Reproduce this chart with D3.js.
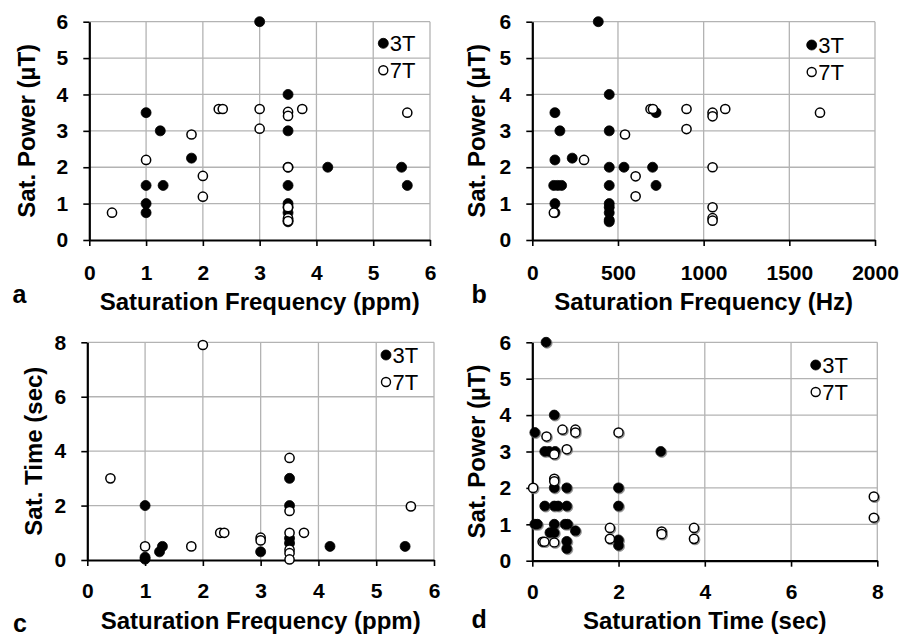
<!DOCTYPE html>
<html>
<head>
<meta charset="utf-8">
<script src="https://cdn.jsdelivr.net/npm/d3@7/dist/d3.min.js"></script>
<style>
html,body{margin:0;padding:0;background:#fff;}
svg{display:block;}
</style>
</head>
<body>
<svg id="chart" width="903" height="636"></svg>
<script>
// ---------- DATA ----------
// Tick values
const ppmTicks = [0, 1, 2, 3, 4, 5, 6];
const hzTicks = [0, 500, 1000, 1500, 2000];
const powerTicks = [0, 1, 2, 3, 4, 5, 6];
const timeTicks = [0, 2, 4, 6, 8];
const seriesNames = ["3T", "7T"];

// Panel a: Saturation Frequency (ppm) vs Sat. Power (uT)
const a3T = [[1,3.5],[1,1.5],[1,1.0],[1,0.75],[1.25,3.0],[1.3,1.5],[1.8,2.25],[3,6],
  [3.5,4],[3.5,3],[3.5,2],[3.5,1.5],[3.5,1.0],[3.5,0.9],[3.5,0.75],[3.5,0.55],[3.5,0.5],
  [4.2,2],[5.5,2],[5.6,1.5]];
const a7T = [[0.4,0.75],[1,2.2],[1.8,2.9],[2,1.76],[2,1.19],[2.28,3.6],[2.35,3.6],
  [3,3.6],[3,3.06],[3.5,3.52],[3.5,3.41],[3.5,2.0],[3.5,0.9],[3.5,0.6],[3.5,0.52],
  [3.75,3.6],[5.6,3.5]];

// Panel b: Saturation Frequency (Hz) vs Sat. Power (uT)
const b3T = [[132,3.5],[161,3.0],[132,2.2],[233,2.25],[125,1.5],[148,1.5],[171,1.5],
  [132,1.0],[132,0.75],[385,6],[449,4],[449,3],[449,2],[449,1.5],[449,1.0],[449,0.9],
  [449,0.75],[449,0.55],[449,0.5],[535,2],[702,2],[722,3.5],[722,1.5]];
const b7T = [[126,0.75],[302,2.2],[541,2.9],[603,1.75],[603,1.2],[690,3.6],[704,3.6],
  [900,3.6],[900,3.05],[1052,3.5],[1052,3.4],[1052,2.0],[1052,0.9],[1052,0.6],[1052,0.53],
  [1126,3.6],[1679,3.5]];

// Panel c: Saturation Frequency (ppm) vs Sat. Time (sec)
const c3T = [[1,2],[1,0.1],[1,0.03],[1.25,0.3],[1.3,0.5],[3,0.3],[3.5,3],[3.5,2],
  [3.5,0.8],[3.5,0.62],[4.2,0.5],[5.5,0.5]];
const c7T = [[0.4,3],[2,7.9],[1,0.5],[1.8,0.5],[2.3,1],[2.37,1],[3,0.82],[3,0.72],
  [3.5,3.75],[3.5,1.8],[3.5,1.0],[3.5,0.38],[3.5,0.25],[3.5,0.02],[3.75,1],[5.6,1.97]];

// Panel d: Saturation Time (sec) vs Sat. Power (uT)
const d3T = [[0.32,6],[0.51,4],[0.06,3.52],[0.29,3],[0.39,3],[0.53,3],[0.51,2],[0.8,2],
  [0.29,1.5],[0.51,1.5],[0.6,1.5],[0.8,1.5],[0.06,1],[0.12,1],[0.51,1],[0.76,1],[0.82,1],
  [0.41,0.77],[0.51,0.77],[1.0,0.82],[0.8,0.53],[0.8,0.33],[2,2],[2,1.5],[2,0.57],[2,0.42],
  [2.98,3]];
const d7T = [[0.02,2],[0.33,3.41],[0.7,3.6],[1,3.6],[1,3.52],[0.51,2.92],[0.8,3.06],
  [0.51,2.25],[0.51,2.18],[0.24,0.52],[0.28,0.52],[0.51,0.5],[2,3.52],[1.8,0.9],[1.8,0.6],
  [3,0.8],[3,0.73],[3.75,0.9],[3.75,0.6],[7.92,1.76],[7.92,1.18]];

// ---------- LAYOUT ----------
const FONT = "'Liberation Sans', Arial, Helvetica, sans-serif";
const svg = d3.select("#chart");

const defs = svg.append("defs");
const f = defs.append("filter").attr("id","shadow").attr("x","-50%").attr("y","-50%").attr("width","200%").attr("height","200%");
f.append("feDropShadow").attr("dx",1).attr("dy",1).attr("stdDeviation",0.7).attr("flood-color","#777").attr("flood-opacity",0.8);

const panels = [
  {letter:"a", s3:a3T, s7:a7T, xTicks:ppmTicks, yTicks:powerTicks,
   left:89.3, right:430, top:21.7, bottom:240,
   xTitle:"Saturation Frequency (ppm)", yTitle:"Sat. Power (\u00B5T)",
   xTitleY:310, yTitleX:35, letterX:12.5, letterY:303, xLabOff:25,
   legX:383.3, legY:43.3, shadow:false},
  {letter:"b", s3:b3T, s7:b7T, xTicks:hzTicks, yTicks:powerTicks,
   left:532.3, right:875, top:21.7, bottom:240,
   xTitle:"Saturation Frequency (Hz)", yTitle:"Sat. Power (\u00B5T)",
   xTitleY:310, yTitleX:485, letterX:471.5, letterY:303, xLabOff:25,
   legX:811.7, legY:45, shadow:false},
  {letter:"c", s3:c3T, s7:c7T, xTicks:ppmTicks, yTicks:timeTicks,
   left:87.3, right:434, top:342.3, bottom:560,
   xTitle:"Saturation Frequency (ppm)", yTitle:"Sat. Time (sec)",
   xTitleY:628.5, yTitleX:41.5, letterX:13, letterY:632, xLabOff:23,
   legX:386, legY:355, shadow:false},
  {letter:"d", s3:d3T, s7:d7T, xTicks:timeTicks, yTicks:powerTicks,
   left:532.3, right:877.3, top:342.3, bottom:560.7,
   xTitle:"Saturation Time (sec)", yTitle:"Sat. Power (\u00B5T)",
   xTitleY:628.5, yTitleX:485, letterX:471.5, letterY:628, xLabOff:23,
   legX:815.7, legY:365, shadow:true}
];

panels.forEach(p => {
  const g = svg.append("g");
  const x = d3.scaleLinear().domain(d3.extent(p.xTicks)).range([p.left, p.right]);
  const y = d3.scaleLinear().domain(d3.extent(p.yTicks)).range([p.bottom, p.top]);

  // grid
  g.append("g").selectAll("line.vg").data(p.xTicks.slice(1)).join("line")
    .attr("x1", d => x(d)).attr("x2", d => x(d))
    .attr("y1", p.top).attr("y2", p.bottom)
    .attr("stroke", "#b3b3b3").attr("stroke-width", 1.3);
  g.append("g").selectAll("line.hg").data(p.yTicks.slice(1)).join("line")
    .attr("x1", p.left).attr("x2", p.right)
    .attr("y1", d => y(d)).attr("y2", d => y(d))
    .attr("stroke", "#b3b3b3").attr("stroke-width", 1.3);

  // axes
  const xAxis = d3.axisBottom(x).tickValues(p.xTicks).tickSizeInner(6).tickSizeOuter(0)
    .tickPadding(p.xLabOff - 6).tickFormat(d3.format("d"));
  const yAxis = d3.axisLeft(y).tickValues(p.yTicks).tickSizeInner(6).tickSizeOuter(0)
    .tickPadding(15).tickFormat(d3.format("d"));

  const gx = g.append("g").attr("transform", `translate(0,${p.bottom})`).call(xAxis);
  const gy = g.append("g").attr("transform", `translate(${p.left},0)`).call(yAxis);
  [gx, gy].forEach(ax => {
    ax.select(".domain").attr("stroke", "#000").attr("stroke-width", 2.2);
    ax.selectAll(".tick line").attr("stroke", "#000").attr("stroke-width", 1.6);
    ax.selectAll(".tick text").attr("fill", "#000")
      .style("font-family", FONT).style("font-size", "21px").style("font-weight", "bold");
  });

  // titles
  g.append("text").attr("x", (p.left + p.right) / 2).attr("y", p.xTitleY)
    .attr("text-anchor", "middle")
    .style("font-family", FONT).style("font-size", "24px").style("font-weight", "bold")
    .text(p.xTitle);
  g.append("text")
    .attr("transform", `translate(${p.yTitleX},${(p.top + p.bottom) / 2}) rotate(-90)`)
    .attr("text-anchor", "middle")
    .style("font-family", FONT).style("font-size", "24px").style("font-weight", "bold")
    .text(p.yTitle);
  g.append("text").attr("x", p.letterX).attr("y", p.letterY)
    .style("font-family", FONT).style("font-size", "25px").style("font-weight", "bold")
    .text(p.letter);

  // points
  const pts = g.append("g");
  if (p.shadow) pts.attr("filter", "url(#shadow)");
  pts.selectAll("circle.s3").data(p.s3).join("circle")
    .attr("cx", d => x(d[0])).attr("cy", d => y(d[1])).attr("r", 5)
    .attr("fill", "#000").attr("stroke", "#000").attr("stroke-width", 0.8);
  pts.selectAll("circle.s7").data(p.s7).join("circle")
    .attr("cx", d => x(d[0])).attr("cy", d => y(d[1])).attr("r", 4.6)
    .attr("fill", "#fff").attr("stroke", "#000").attr("stroke-width", 1.5);

  // legend
  const leg = g.append("g");
  seriesNames.forEach((name, i) => {
    const cy = p.legY + i * 27;
    leg.append("circle").attr("cx", p.legX).attr("cy", cy).attr("r", i === 0 ? 5 : 4.5)
      .attr("fill", i === 0 ? "#000" : "#fff").attr("stroke", "#000")
      .attr("stroke-width", i === 0 ? 0.8 : 1.4);
    leg.append("text").attr("x", p.legX + 6.5).attr("y", cy + 8)
      .style("font-family", FONT).style("font-size", "22px")
      .text(name);
  });
});
</script>
</body>
</html>
